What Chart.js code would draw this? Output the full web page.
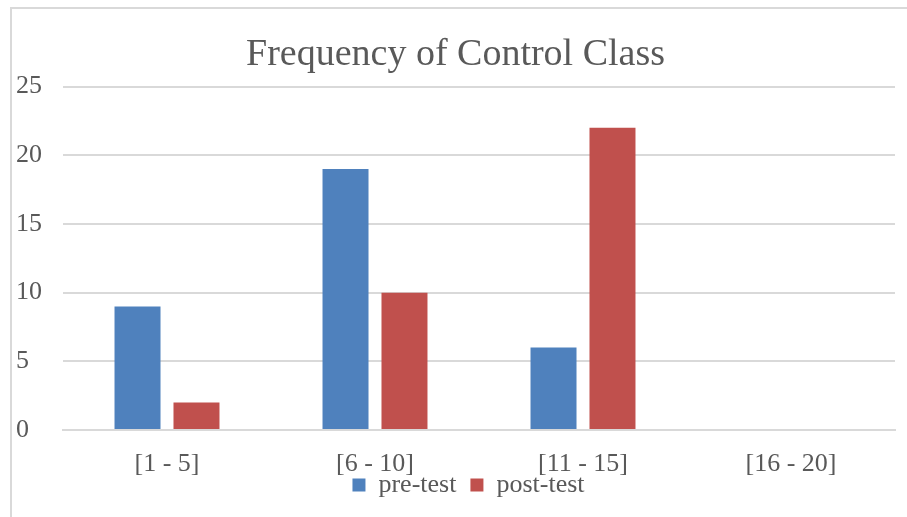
<!DOCTYPE html>
<html>
<head>
<meta charset="utf-8">
<script src="https://cdn.jsdelivr.net/npm/chart.js@4"></script>
<style>
  body { margin: 0; background: #fff; }
  #frame { position: absolute; left: 10px; top: 7px; width: 900px; height: 520px;
           border-left: 2px solid #d9d9d9; border-top: 2px solid #d9d9d9; }
  #wrap { position: absolute; left: 0; top: 0; width: 907px; height: 517px; }
</style>
</head>
<body>
<div id="frame"></div>
<div id="wrap"><canvas id="chart"></canvas></div>
<script>
// Frequency of Control Class - pre-test vs post-test
const categories = ['[1 - 5]', '[6 - 10]', '[11 - 15]', '[16 - 20]'];
const preTest = [9, 19, 6, 0];
const postTest = [2, 10, 22, 0];
const yTicks = [0, 5, 10, 15, 20, 25];

const textColor = '#595959';
const fontFamily = '"Liberation Serif", serif';

// nudge the legend a little right, the way the original centres it
const legendShift = {
    id: 'legendShift',
    afterLayout(chart) {
        chart.legend.left += 13;
        chart.legend.right += 13;
    }
};

const ctx = document.getElementById('chart').getContext('2d');
const chart = new Chart(ctx, {
    type: 'bar',
    data: {
        labels: categories,
        datasets: [{
            label: 'pre-test',
            data: preTest,
            backgroundColor: '#4F81BD',
            categoryPercentage: 0.567,
            barPercentage: 0.78
        }, {
            label: 'post-test',
            data: postTest,
            backgroundColor: '#C0504D',
            categoryPercentage: 0.567,
            barPercentage: 0.78
        }]
    },
    options: {
        responsive: true,
        maintainAspectRatio: false,
        animation: false,
        layout: { padding: { left: 16, right: 12, top: 0, bottom: 9 } },
        plugins: {
            title: {
                display: true,
                text: 'Frequency of Control Class',
                color: textColor,
                font: { family: fontFamily, size: 38, weight: 'normal' },
                padding: { top: 32, bottom: 9 }
            },
            legend: {
                position: 'bottom',
                labels: {
                    color: textColor,
                    font: { family: fontFamily, size: 26 },
                    boxWidth: 13,
                    boxHeight: 13,
                    padding: 14
                }
            },
            tooltip: { enabled: false }
        },
        scales: {
            x: {
                grid: { display: false, drawTicks: false },
                border: { color: '#d9d9d9', width: 2 },
                ticks: { color: textColor, font: { family: fontFamily, size: 26 }, padding: 19 },
                afterFit: s => {
                    s.height = 28;
                    // labels run a little below the axis box; don't clip them
                    s._computeLabelArea = () => undefined;
                }
            },
            y: {
                min: 0,
                max: 25,
                afterBuildTicks: s => { s.ticks = yTicks.map(v => ({ value: v })); },
                grid: { color: '#d9d9d9', lineWidth: 2, drawTicks: false },
                border: { display: false },
                ticks: { color: textColor, font: { family: fontFamily, size: 26 },
                         crossAlign: 'far', padding: 8 },
                afterFit: s => { s.width = 47; }
            }
        }
    },
    plugins: [legendShift]
});
</script>
</body>
</html>
